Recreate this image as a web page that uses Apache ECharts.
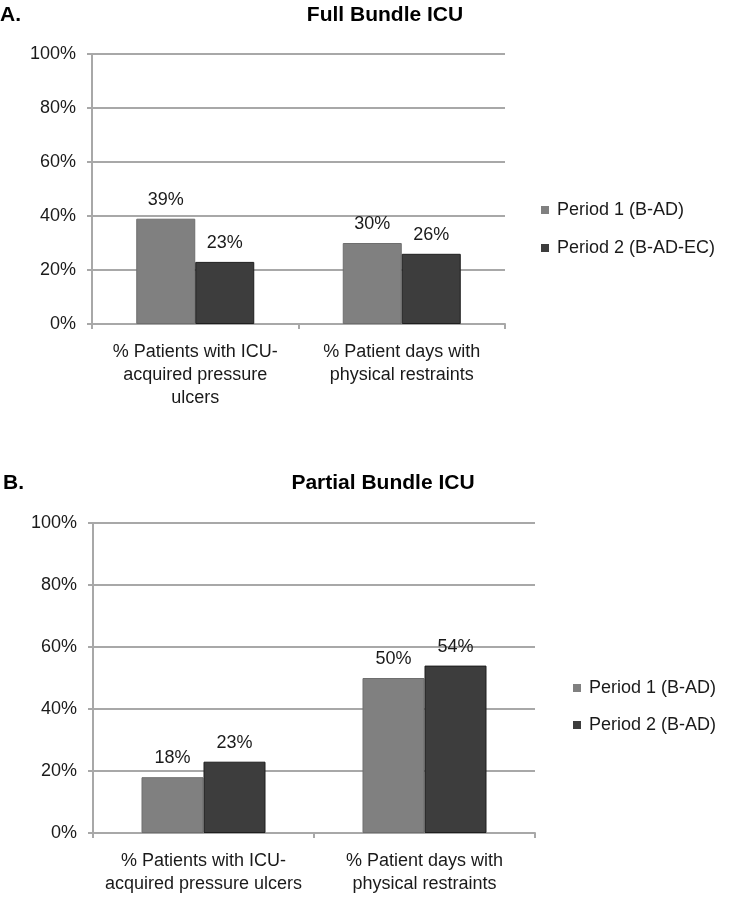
<!DOCTYPE html>
<html>
<head>
<meta charset="utf-8">
<script src="https://cdn.jsdelivr.net/npm/echarts@6/dist/echarts.min.js"></script>
<style>
html,body{margin:0;padding:0;background:#fff;}
#chart{width:734px;height:900px;}
</style>
</head>
<body>
<div id="chart"></div>
<script>
const categoriesA = ['% Patients with ICU-\nacquired pressure\nulcers', '% Patient days with\nphysical restraints'];
const categoriesB = ['% Patients with ICU-\nacquired pressure ulcers', '% Patient days with\nphysical restraints'];
const seriesNamesA = ['Period 1 (B-AD)', 'Period 2 (B-AD-EC)'];
const seriesNamesB = ['Period 1 (B-AD)', 'Period 2 (B-AD)'];
const period1A = [39, 30];
const period2A = [23, 26];
const period1B = [18, 50];
const period2B = [23, 54];
const yTicks = [0, 20, 40, 60, 80, 100];

const FONT = '"Liberation Sans", Arial, sans-serif';
const TXT = '#1a1a1a';
const GRID = '#a8a8a8';
const C1 = '#808080';
const C2 = '#3d3d3d';
const FS = 18;

const chart = echarts.init(document.getElementById('chart'), null, {renderer: 'canvas'});

function yAxis(gi) {
  return {
    type: 'value', gridIndex: gi, min: yTicks[0], max: yTicks[yTicks.length - 1], interval: 20,
    axisLine: {show: true, lineStyle: {color: GRID, width: 2}},
    axisTick: {show: true, length: 5, lineStyle: {color: GRID, width: 2}},
    splitLine: {show: true, lineStyle: {color: GRID, width: 2}},
    axisLabel: {formatter: '{value}%', color: TXT, fontSize: FS, fontFamily: FONT, margin: 16}
  };
}
function xAxis(gi, cats) {
  return {
    type: 'category', gridIndex: gi, data: cats,
    axisLine: {show: true, lineStyle: {color: GRID, width: 2}},
    axisTick: {show: true, length: 5, lineStyle: {color: GRID, width: 2}},
    axisLabel: {color: TXT, fontSize: FS, fontFamily: FONT, lineHeight: 23, margin: 17, interval: 0}
  };
}
function bar(name, data, color, border, xi, bw) {
  return {
    name: name, type: 'bar', xAxisIndex: xi, yAxisIndex: xi, data: data,
    barWidth: bw, barGap: '0%',
    itemStyle: {color: color, borderColor: border, borderWidth: 1},
    label: {show: true, position: 'top', distance: 10, formatter: '{c}%', color: TXT, fontSize: FS, fontFamily: FONT}
  };
}
const legendText = {color: TXT, fontSize: FS, fontFamily: FONT, lineHeight: 18, padding: [0, 0, 0, 3]};

chart.setOption({
  animation: false,
  backgroundColor: '#fff',
  title: [
    {text: 'A.', left: 0, top: 5, padding: 0, textStyle: {fontSize: 21, fontWeight: 'bold', color: '#000', fontFamily: FONT}},
    {text: 'Full Bundle ICU', left: 385, textAlign: 'center', top: 5, padding: 0, textStyle: {fontSize: 21, fontWeight: 'bold', color: '#000', fontFamily: FONT}},
    {text: 'B.', left: 3, top: 473, padding: 0, textStyle: {fontSize: 21, fontWeight: 'bold', color: '#000', fontFamily: FONT}},
    {text: 'Partial Bundle ICU', left: 383, textAlign: 'center', top: 473, padding: 0, textStyle: {fontSize: 21, fontWeight: 'bold', color: '#000', fontFamily: FONT}}
  ],
  legend: [
    {data: seriesNamesA, orient: 'vertical', left: 541, top: 201, padding: 0, itemGap: 20, itemWidth: 8, itemHeight: 8, icon: 'rect',
     itemStyle: {borderWidth: 0}, textStyle: legendText},
    {data: seriesNamesB, orient: 'vertical', left: 573, top: 679, padding: 0, itemGap: 19, itemWidth: 8, itemHeight: 8, icon: 'rect',
     itemStyle: {borderWidth: 0}, textStyle: legendText}
  ],
  grid: [
    {left: 92, width: 413, top: 54, height: 270},
    {left: 93, width: 442, top: 523, height: 310}
  ],
  xAxis: [xAxis(0, categoriesA), xAxis(1, categoriesB)],
  yAxis: [yAxis(0), yAxis(1)],
  series: [
    bar(seriesNamesA[0], period1A, C1, '#6e6e6e', 0, 59),
    bar(seriesNamesA[1], period2A, C2, '#1e1e1e', 0, 59),
    bar(seriesNamesB[0], period1B, C1, '#6e6e6e', 1, 62),
    bar(seriesNamesB[1], period2B, C2, '#1e1e1e', 1, 62)
  ]
});
</script>
</body>
</html>
